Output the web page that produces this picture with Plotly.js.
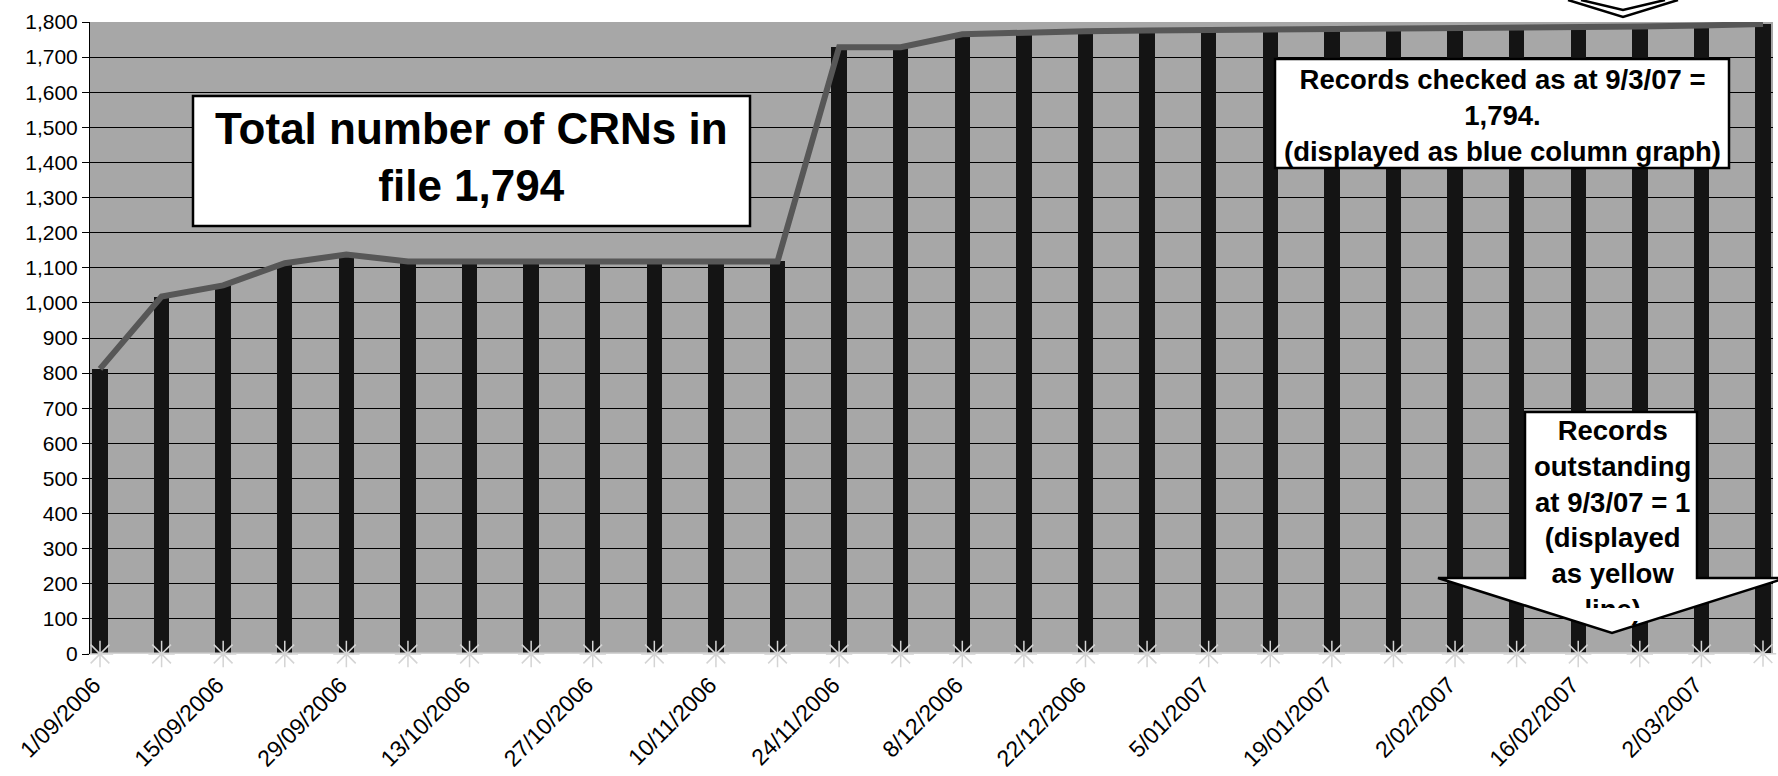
<!DOCTYPE html>
<html>
<head>
<meta charset="utf-8">
<script src="https://cdn.plot.ly/plotly-3.0.1.min.js"></script>
<style>html,body{margin:0;padding:0;background:#fff;}#chart{width:1778px;height:776px;}</style>
</head>
<body>
<div id="chart"></div>
<script>
// ---- data ----
const dates = ['2006-09-01','2006-09-08','2006-09-15','2006-09-22','2006-09-29','2006-10-06','2006-10-13','2006-10-20','2006-10-27','2006-11-03','2006-11-10','2006-11-17','2006-11-24','2006-12-01','2006-12-08','2006-12-15','2006-12-22','2006-12-29','2007-01-05','2007-01-12','2007-01-19','2007-01-26','2007-02-02','2007-02-09','2007-02-16','2007-02-23','2007-03-02','2007-03-09'];
const recordsChecked = [812,1018,1050,1113,1138,1118,1118,1118,1118,1118,1118,1118,1728,1728,1765,1771,1774,1776,1777,1778,1779,1780,1781,1783,1785,1787,1790,1794];
const totalCRNs      = [812,1018,1050,1113,1138,1118,1118,1118,1118,1118,1118,1118,1728,1728,1765,1771,1774,1776,1777,1778,1779,1780,1781,1783,1785,1787,1790,1794];
const outstanding    = [0,0,0,0,0,0,0,0,0,0,0,0,0,0,0,0,0,0,0,0,0,0,0,0,0,0,0,1];
const tickDates = ['2006-09-01','2006-09-15','2006-09-29','2006-10-13','2006-10-27','2006-11-10','2006-11-24','2006-12-08','2006-12-22','2007-01-05','2007-01-19','2007-02-02','2007-02-16','2007-03-02'];
const tickLabels = ['1/09/2006','15/09/2006','29/09/2006','13/10/2006','27/10/2006','10/11/2006','24/11/2006','8/12/2006','22/12/2006','5/01/2007','19/01/2007','2/02/2007','16/02/2007','2/03/2007'];
const note1 = 'Total number of CRNs in<br>file 1,794';
const note2 = 'Records checked as at 9/3/07 =<br>1,794.<br>(displayed as blue column graph)';
const note3 = 'Records<br>outstanding<br>at 9/3/07 = 1<br>(displayed<br>as yellow<br>line)';

// ---- layout geometry (pixels) ----
const W = 1778, H = 776, L = 90, R = 1773, T = 22, B = 654;
const px = x => (x - L) / (R - L);
const py = y => (B - y) / (B - T);
const FONT = 'Liberation Sans, Arial, sans-serif';
const bold = s => s.split('<br>').map(t => '<b>' + t + '</b>').join('<br>');

function rect(x0, y0, x1, y1) {
  return {type:'rect', xref:'paper', yref:'paper', x0:px(x0), x1:px(x1), y0:py(y1), y1:py(y0),
          fillcolor:'#ffffff', line:{color:'#000', width:2.5}, layer:'above'};
}
function poly(pts, closed, fill) {
  let d = pts.map((p, i) => (i ? 'L' : 'M') + px(p[0]) + ',' + py(p[1])).join(' ');
  if (closed) d += ' Z';
  return {type:'path', xref:'paper', yref:'paper', path:d,
          fillcolor: fill || 'rgba(0,0,0,0)', line:{color:'#000', width:2.5}, layer:'above'};
}

const traces = [
  {type:'bar', x:dates, y:recordsChecked, width:1.75*86400000,
   marker:{color:'#141414', line:{width:0}}, name:'Records checked'},
  {type:'scatter', mode:'lines', x:dates, y:totalCRNs,
   line:{color:'#575757', width:6}, name:'Total CRNs'},
  {type:'scatter', mode:'lines+markers', x:dates, y:outstanding,
   line:{color:'#d4d4d4', width:3},
   marker:{symbol:'asterisk-open', size:22, line:{color:'#e4e4e4', width:1.5}},
   name:'Records outstanding', cliponaxis:false}
];

const layout = {
  width:W, height:H,
  margin:{l:L, r:W-R, t:T, b:H-B, pad:0},
  paper_bgcolor:'#ffffff', plot_bgcolor:'#a7a7a7',
  showlegend:false, bargap:0,
  font:{family:FONT, color:'#000', size:21},
  xaxis:{type:'date', range:['2006-08-30 20:44:00','2007-03-10 03:16:00'],
         tickvals:tickDates, ticktext:tickLabels, tickangle:-45,
         showgrid:false, zeroline:false, showline:false, ticks:'',
         ticklabelstandoff:12, ticklabelshift:-6,
         tickfont:{family:FONT, size:23, color:'#000'}},
  yaxis:{range:[0,1800], dtick:100, tick0:0, tickformat:',d',
         showgrid:true, gridcolor:'#000', gridwidth:1, zeroline:false,
         showline:true, linecolor:'#000', linewidth:1,
         ticks:'outside', ticklen:7, tickcolor:'#000', tickwidth:1,
         tickfont:{family:FONT, size:21, color:'#000'}},
  shapes:[
    rect(193, 96, 750, 226),
    rect(1275, 59, 1729, 168),
    poly([[1525,412],[1697,412],[1697,578],[1786,578],[1612,633],[1438,578],[1525,578]], true, '#ffffff'),
    poly([[1568,0],[1623,17],[1678,0]], false),
    poly([[1581,0],[1623,10],[1665,0]], false)
  ],
  annotations:[
    {xref:'paper', yref:'paper', x:px(471.5), y:py(157), xanchor:'center', yanchor:'middle',
     text:bold(note1), showarrow:false, align:'center',
     font:{family:FONT, size:44, color:'#000'}},
    {xref:'paper', yref:'paper', x:px(1502), y:py(115), xanchor:'center', yanchor:'middle',
     text:bold(note2), showarrow:false, align:'center',
     font:{family:FONT, size:27.5, color:'#000'}},
    {xref:'paper', yref:'paper', x:px(1612), y:py(520), xanchor:'center', yanchor:'middle',
     text:bold(note3), showarrow:false, align:'center',
     font:{family:FONT, size:27.5, color:'#000'}},
    {xref:'paper', yref:'paper', x:px(1612), y:py(608), xanchor:'center', yanchor:'top',
     text:' ', showarrow:false, width:60, height:13, bgcolor:'#ffffff', borderwidth:0, borderpad:0}
  ]
};

Plotly.newPlot('chart', traces, layout, {displayModeBar:false, staticPlot:true});
</script>
</body>
</html>
